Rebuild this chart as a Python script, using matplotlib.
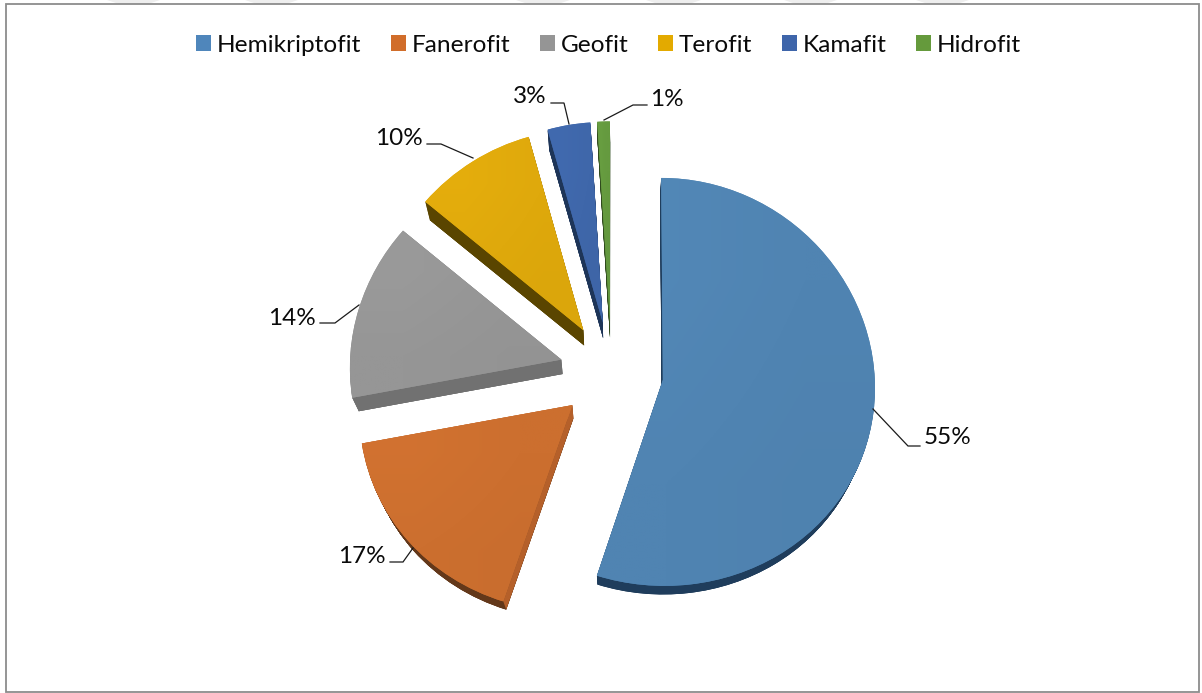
import numpy as np
import matplotlib
matplotlib.use("Agg")
import matplotlib.pyplot as plt
from matplotlib.patches import Patch, Polygon, Rectangle, PathPatch
from matplotlib.path import Path
from matplotlib.colors import to_rgb

categories = ["Hemikriptofit", "Fanerofit", "Geofit", "Terofit", "Kamafit", "Hidrofit"]
values = [55, 17, 14, 9.6, 3.4, 1]
legend_colors = ["#4f86bb", "#d16d2a", "#959595", "#e3aa00", "#3e65aa", "#659a3c"]
top_colors = ["#5084b2", "#cc6f2f", "#969696", "#dfa90c", "#3f67aa", "#659a3f"]
rim_colors = ["#1f3d5c", "#63381a", "#6e6e6e", "#5a4500", "#1e3558", "#2f4a1d"]
cut_colors = ["#1f3d5c", "#b5602a", "#717171", "#5a4500", "#1e3558", "#2f4a1d"]

W, H = 1202, 693
CX, CY, RX, RY = 611.5, 372.0, 212.0, 204.0
EXPLODE = 52.0 / RX
VX, VY, SCALE = 615.0, 895.0, 0.973
WARP_X, WARP_Y = 0.00016, 0.00005   # perspective of the tilted pie
WARP_Y0 = 381.0


def px(x, y):
    return (x - CX) / RX, (CY - y) / RY


def warp(vertices):
    v = np.asarray(vertices, dtype=float).reshape(-1, 2)
    x = v[:, 0] * RX + CX
    y = CY - v[:, 1] * RY
    x2 = CX + (x - CX) * (1 + WARP_X * (y - WARP_Y0))
    y2 = WARP_Y0 + (y - WARP_Y0) * (1 + WARP_Y * (y - WARP_Y0))
    return np.column_stack([(x2 - CX) / RX, (CY - y2) / RY])


plt.rcParams["font.family"] = ["Lato", "DejaVu Sans"]
fig = plt.figure(figsize=(W / 100, H / 100), dpi=100, facecolor="white")
ax = fig.add_axes([0, 0, 1, 1])

explode = [EXPLODE] * len(values)


def draw_pie(t, colors, z):
    """One pie at depth t; returns warped patches with the wedges' geometry."""
    s = 1 - (1 - SCALE) * t
    cx = VX + s * (CX - VX)
    cy = VY + s * (CY - VY)
    wedges, _ = ax.pie(values, explode=[e * s for e in explode], colors=colors,
                       startangle=90, counterclock=False, radius=s,
                       center=px(cx, cy),
                       wedgeprops=dict(linewidth=0), normalize=True)
    out = []
    for w, c in zip(wedges, colors):
        p = w.get_path().transformed(w.get_patch_transform())
        patch = PathPatch(Path(warp(p.vertices), p.codes), facecolor=c,
                          edgecolor="none", linewidth=0, zorder=z)
        ax.add_patch(patch)
        out.append((patch, w.center, w.r, w.theta1, w.theta2))
        w.remove()
    return out


# extruded sides
for i, t in enumerate(np.linspace(1, 0.05, 24)):
    draw_pie(t, rim_colors, 2 + i * 0.001)
bottom = draw_pie(1, rim_colors, 1.9)
top = draw_pie(0, top_colors, 4)

# cut faces
for wb, wt, c in zip(bottom, top, cut_colors):
    for theta in (wt[3], wt[4]):
        a = np.deg2rad(theta)
        d = np.array([np.cos(a), np.sin(a)])
        pts = [wt[1], np.array(wt[1]) + wt[2] * d, np.array(wb[1]) + wb[2] * d, wb[1]]
        ax.add_patch(Polygon(warp(pts), closed=True, facecolor=c, edgecolor="none", zorder=3))

# soft shading on the top faces
for (patch, *_), c in zip(top, top_colors):
    base = np.array(to_rgb(c))
    grad = np.zeros((2, 2, 3))
    grad[0, 0] = np.clip(base * 1.025, 0, 1)
    grad[0, 1] = base
    grad[1, 0] = base
    grad[1, 1] = np.clip(base * 0.985, 0, 1)
    bb = patch.get_path().get_extents()
    im = ax.imshow(grad, extent=(bb.x0, bb.x1, bb.y0, bb.y1), interpolation="bilinear",
                   aspect="auto", zorder=4.5)
    im.set_clip_path(patch)

ax.set_aspect("auto")
ax.set_xlim(px(0, 0)[0], px(W, 0)[0])
ax.set_ylim(px(0, H)[1], px(0, 0)[1])
ax.axis("off")

# faint background stripes cut off at the top edge
for x0, x1 in [(107, 160), (245, 298), (516, 570), (646, 701), (784, 837), (916, 969)]:
    ax.add_patch(Polygon([px(x0, 0), px(x1, 0), px(x1 - 12, 4), px(x0 + 12, 4)],
                         closed=True, facecolor="#eeeeee", edgecolor="none", zorder=0))

# frame
fx0, fy0 = px(5.5, 691.5)
fx1, fy1 = px(1198.5, 4.5)
ax.add_patch(Rectangle((fx0, fy0), fx1 - fx0, fy1 - fy0, facecolor="none",
                       edgecolor="#8c8c8c", linewidth=1.3, zorder=1))

# leader lines and labels
label_x = [924, 386, 316, 423, 547, 650]
label_y = [437.5, 556.5, 318.5, 138.5, 96.5, 99.5]
label_ha = ["left", "right", "right", "right", "right", "left"]
leaders = [
    [(873, 409), (908, 446), (920, 446)],
    [(413, 548), (403, 562), (390, 562)],
    [(359, 305), (335, 323), (320, 323)],
    [(473, 158), (441, 144), (427, 144)],
    [(569, 124), (564, 103), (551, 103)],
    [(604, 120), (633, 105), (647, 105)],
]
for v, lx, ly, ha, seg in zip(values, label_x, label_y, label_ha, leaders):
    xs, ys = zip(*[px(*p) for p in seg])
    ax.plot(xs, ys, color="#1a1a1a", lw=0.9, zorder=5, solid_joinstyle="miter")
    tx, ty = px(lx, ly)
    ax.text(tx, ty, f"{round(v)}%", ha=ha, va="center", fontsize=17.5, color="#0a0a0a", zorder=6)

# legend
handles = [Patch(facecolor=c, edgecolor="none") for c in legend_colors]
lx, ly = px(608.5, 45)
ax.legend(handles, categories, ncol=6, loc="center", bbox_to_anchor=(lx, ly),
          bbox_transform=ax.transData, frameon=False, fontsize=17.6,
          handlelength=0.62, handleheight=0.62, handletextpad=0.22,
          columnspacing=1.22, borderpad=0, borderaxespad=0, labelcolor="#0a0a0a")

fig.savefig("out.png", dpi=100, facecolor="white")
